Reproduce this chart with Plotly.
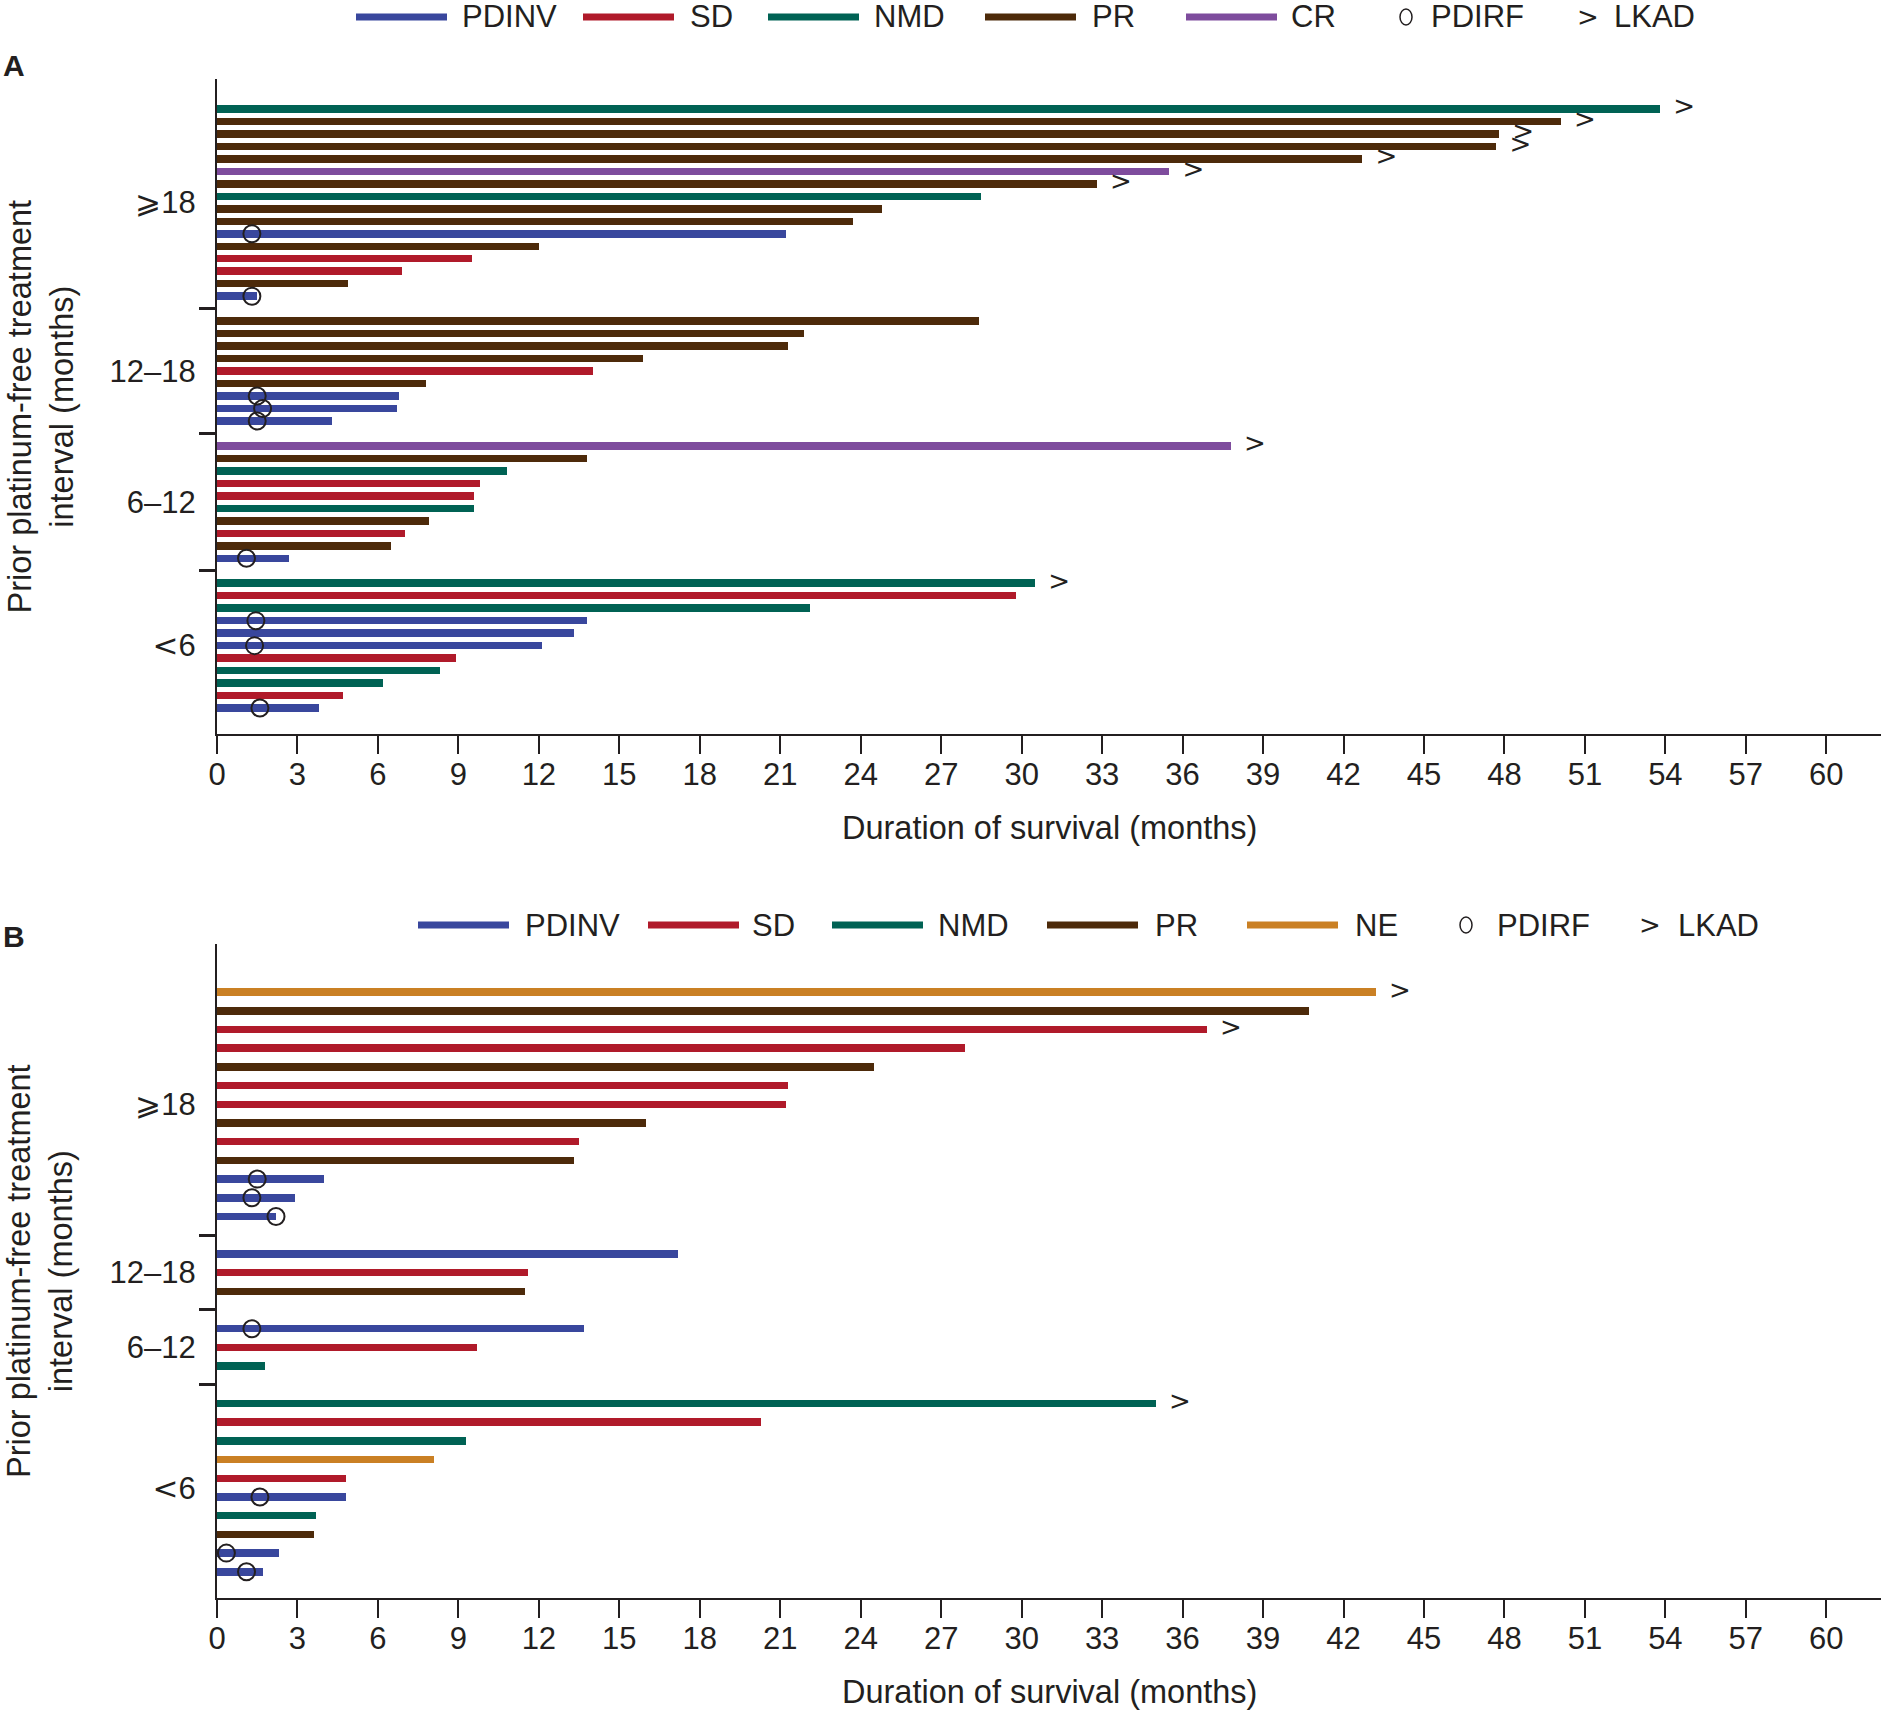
import plotly.graph_objects as go

# ---------------------------------------------------------------- data
GROUP_LABELS = ["⩾18", "12–18", "6–12", "<6"]
LEGEND_A = ["PDINV", "SD", "NMD", "PR", "CR", "PDIRF", "LKAD"]
LEGEND_B = ["PDINV", "SD", "NMD", "PR", "NE", "PDIRF", "LKAD"]
X_TICKS = list(range(0, 61, 3))

# Panel A  (months of survival, best response, PD/IRF time, last known alive flag)
A_GE18_MONTHS = [53.8, 50.1, 47.8, 47.7, 42.7, 35.5, 32.8, 28.5, 24.8, 23.7, 21.2, 12.0, 9.5, 6.9, 4.9, 1.5]
A_GE18_RESP = ["NMD", "PR", "PR", "PR", "PR", "CR", "PR", "NMD", "PR", "PR", "PDINV", "PR", "SD", "SD", "PR", "PDINV"]
A_GE18_PDIRF = [None, None, None, None, None, None, None, None, None, None, 1.3, None, None, None, None, 1.3]
A_GE18_LKAD = [1, 1, 1, 1, 1, 1, 1, 0, 0, 0, 0, 0, 0, 0, 0, 0]

A_12_18_MONTHS = [28.4, 21.9, 21.3, 15.9, 14.0, 7.8, 6.8, 6.7, 4.3]
A_12_18_RESP = ["PR", "PR", "PR", "PR", "SD", "PR", "PDINV", "PDINV", "PDINV"]
A_12_18_PDIRF = [None, None, None, None, None, None, 1.5, 1.7, 1.5]
A_12_18_LKAD = [0, 0, 0, 0, 0, 0, 0, 0, 0]

A_6_12_MONTHS = [37.8, 13.8, 10.8, 9.8, 9.6, 9.6, 7.9, 7.0, 6.5, 2.7]
A_6_12_RESP = ["CR", "PR", "NMD", "SD", "SD", "NMD", "PR", "SD", "PR", "PDINV"]
A_6_12_PDIRF = [None, None, None, None, None, None, None, None, None, 1.1]
A_6_12_LKAD = [1, 0, 0, 0, 0, 0, 0, 0, 0, 0]

A_LT6_MONTHS = [30.5, 29.8, 22.1, 13.8, 13.3, 12.1, 8.9, 8.3, 6.2, 4.7, 3.8]
A_LT6_RESP = ["NMD", "SD", "NMD", "PDINV", "PDINV", "PDINV", "SD", "NMD", "NMD", "SD", "PDINV"]
A_LT6_PDIRF = [None, None, None, 1.45, None, 1.4, None, None, None, None, 1.6]
A_LT6_LKAD = [1, 0, 0, 0, 0, 0, 0, 0, 0, 0, 0]

# Panel B
B_GE18_MONTHS = [43.2, 40.7, 36.9, 27.9, 24.5, 21.3, 21.2, 16.0, 13.5, 13.3, 4.0, 2.9, 2.2]
B_GE18_RESP = ["NE", "PR", "SD", "SD", "PR", "SD", "SD", "PR", "SD", "PR", "PDINV", "PDINV", "PDINV"]
B_GE18_PDIRF = [None, None, None, None, None, None, None, None, None, None, 1.5, 1.3, 2.2]
B_GE18_LKAD = [1, 0, 1, 0, 0, 0, 0, 0, 0, 0, 0, 0, 0]

B_12_18_MONTHS = [17.2, 11.6, 11.5]
B_12_18_RESP = ["PDINV", "SD", "PR"]
B_12_18_PDIRF = [None, None, None]
B_12_18_LKAD = [0, 0, 0]

B_6_12_MONTHS = [13.7, 9.7, 1.8]
B_6_12_RESP = ["PDINV", "SD", "NMD"]
B_6_12_PDIRF = [1.3, None, None]
B_6_12_LKAD = [0, 0, 0]

B_LT6_MONTHS = [35.0, 20.3, 9.3, 8.1, 4.8, 4.8, 3.7, 3.6, 2.3, 1.7]
B_LT6_RESP = ["NMD", "SD", "NMD", "NE", "SD", "PDINV", "NMD", "PR", "PDINV", "PDINV"]
B_LT6_PDIRF = [None, None, None, None, None, 1.6, None, None, 0.35, 1.1]
B_LT6_LKAD = [1, 0, 0, 0, 0, 0, 0, 0, 0, 0]

# ---------------------------------------------------------------- style
W, H = 1881, 1712
INK = "#231f20"
FONT = "Liberation Sans, Arial, Helvetica, sans-serif"
GLYPH_FONT = "DejaVu Sans, Liberation Sans, sans-serif"
COLORS = {"PDINV": "#39479d", "SD": "#b01a2a", "NMD": "#006254",
          "PR": "#4d2a0a", "CR": "#7e4c9d", "NE": "#ca8024"}
LKAD_OFFSET = 0.9
X_DOMAIN = [217 / W, 1.0]
X_RANGE = [0, 62.04]

PANELS = [
    dict(key="", groups=[(A_GE18_MONTHS, A_GE18_RESP, A_GE18_PDIRF, A_GE18_LKAD),
                         (A_12_18_MONTHS, A_12_18_RESP, A_12_18_PDIRF, A_12_18_LKAD),
                         (A_6_12_MONTHS, A_6_12_RESP, A_6_12_PDIRF, A_6_12_LKAD),
                         (A_LT6_MONTHS, A_LT6_RESP, A_LT6_PDIRF, A_LT6_LKAD)],
         legend=LEGEND_A, label="A",
         top_px=79, bot_px=734, yrange=[50.08, -2.4], bar_w=0.6,
         leg_y=17, leg_x=[356, 583, 768, 985, 1186, 1406, 1588],
         leg_tx=[460, 688, 872, 1090, 1289, 1429, 1612], label_y=66),
    dict(key="2", groups=[(B_GE18_MONTHS, B_GE18_RESP, B_GE18_PDIRF, B_GE18_LKAD),
                          (B_12_18_MONTHS, B_12_18_RESP, B_12_18_PDIRF, B_12_18_LKAD),
                          (B_6_12_MONTHS, B_6_12_RESP, B_6_12_PDIRF, B_6_12_LKAD),
                          (B_LT6_MONTHS, B_LT6_RESP, B_LT6_PDIRF, B_LT6_LKAD)],
         legend=LEGEND_B, label="B",
         top_px=944, bot_px=1598, yrange=[32.4, -2.57], bar_w=0.4,
         leg_y=925, leg_x=[418, 648, 832, 1047, 1247, 1466, 1650],
         leg_tx=[523, 750, 936, 1153, 1353, 1495, 1676], label_y=936),
]


def stack(groups):
    out = dict(slot=[], months=[], resp=[], pdirf=[], lkad=[], centers=[], seps=[])
    s = 0
    for gi, (m, r, p, k) in enumerate(groups):
        if gi > 0:
            out["seps"].append(s)
            s += 1
        start = s
        for i in range(len(m)):
            out["slot"].append(s)
            out["months"].append(m[i])
            out["resp"].append(r[i])
            out["pdirf"].append(p[i])
            out["lkad"].append(k[i])
            s += 1
        out["centers"].append((start + s - 1) / 2)
    return out


def tick_html(label):
    return label.replace("<", '<span style="font-family:DejaVu Sans">&lt;</span>')


fig = go.Figure()
shapes, annotations = [], []
layout = {}

for P in PANELS:
    d = stack(P["groups"])
    xa, ya = "x" + P["key"], "y" + P["key"]
    for r in P["legend"]:
        if r not in COLORS:
            continue
        idx = [i for i, v in enumerate(d["resp"]) if v == r]
        if not idx:
            continue
        fig.add_trace(go.Bar(
            x=[d["months"][i] for i in idx], y=[d["slot"][i] for i in idx],
            orientation="h", width=P["bar_w"], marker=dict(color=COLORS[r], line=dict(width=0)),
            name=r, showlegend=False, xaxis=xa, yaxis=ya, hoverinfo="x+name"))
    pi = [i for i, v in enumerate(d["pdirf"]) if v is not None]
    fig.add_trace(go.Scatter(
        x=[d["pdirf"][i] for i in pi], y=[d["slot"][i] for i in pi], mode="markers",
        marker=dict(symbol="circle-open", size=17, color=INK, line=dict(width=2, color=INK)),
        showlegend=False, cliponaxis=False, xaxis=xa, yaxis=ya, name="PDIRF"))
    li = [i for i, v in enumerate(d["lkad"]) if v]
    fig.add_trace(go.Scatter(
        x=[d["months"][i] + LKAD_OFFSET for i in li], y=[d["slot"][i] for i in li],
        mode="text", text=[">"] * len(li), textposition="middle center",
        textfont=dict(family=GLYPH_FONT, size=26, color=INK),
        showlegend=False, cliponaxis=False, xaxis=xa, yaxis=ya, name="LKAD"))

    dom = [1 - P["bot_px"] / H, 1 - P["top_px"] / H]
    layout["xaxis" + P["key"]] = dict(
        domain=X_DOMAIN, range=X_RANGE, anchor=ya, tickmode="array", tickvals=X_TICKS,
        ticks="outside", ticklen=18, tickwidth=2, tickcolor=INK, showline=True,
        linewidth=2, linecolor=INK, showgrid=False, zeroline=False, automargin=False,
        tickfont=dict(family=FONT, size=31, color=INK), ticklabelstandoff=-6)
    layout["yaxis" + P["key"]] = dict(
        domain=dom, range=P["yrange"], anchor=xa, tickmode="array",
        tickvals=d["centers"], ticktext=[tick_html(g) for g in GROUP_LABELS], ticks="",
        showline=True, linewidth=2, linecolor=INK, showgrid=False, zeroline=False,
        automargin=False, tickfont=dict(family=FONT, size=31, color=INK), ticklabelstandoff=13,
        minor=dict(tickmode="array", tickvals=d["seps"], ticks="outside", ticklen=16,
                   tickwidth=2.5, tickcolor=INK, showgrid=False))

    # axis titles
    annotations.append(dict(text="Duration of survival (months)", xref=xa + " domain", x=0.5,
                            yref=ya + " domain", y=0, yshift=-94, yanchor="middle",
                            showarrow=False, font=dict(family=FONT, size=32.5, color=INK)))
    annotations.append(dict(text="Prior platinum-free treatment<br>interval (months)",
                            xref="paper", x=40 / W, xanchor="center", yref=ya + " domain", y=0.5,
                            yanchor="middle", textangle=-90, showarrow=False,
                            font=dict(family=FONT, size=32.5, color=INK)))
    annotations.append(dict(text="<b>" + P["label"] + "</b>", xref="paper", x=14 / W,
                            xanchor="center", yref="paper", y=1 - P["label_y"] / H,
                            yanchor="middle", showarrow=False,
                            font=dict(family=FONT, size=30, color=INK)))

    # legend
    ly = 1 - P["leg_y"] / H
    for name, lx, tx in zip(P["legend"], P["leg_x"], P["leg_tx"]):
        if name in COLORS:
            shapes.append(dict(type="line", xref="paper", yref="paper", x0=lx / W,
                               x1=(lx + 91) / W, y0=ly, y1=ly,
                               line=dict(color=COLORS[name], width=7)))
        elif name == "PDIRF":
            shapes.append(dict(type="circle", xref="paper", yref="paper",
                               x0=(lx - 6) / W, x1=(lx + 6) / W, y0=ly - 8 / H, y1=ly + 8 / H,
                               line=dict(color=INK, width=1.5)))
        else:
            annotations.append(dict(text=">", xref="paper", x=lx / W, xanchor="center",
                                    yref="paper", y=ly, yanchor="middle", showarrow=False,
                                    font=dict(family=GLYPH_FONT, size=26, color=INK)))
        annotations.append(dict(text=name, xref="paper", x=tx / W, xanchor="left",
                                yref="paper", y=ly, yanchor="middle", showarrow=False,
                                font=dict(family=FONT, size=31, color=INK)))

fig.update_layout(
    width=W, height=H, margin=dict(l=0, r=0, t=0, b=0, autoexpand=False),
    paper_bgcolor="white", plot_bgcolor="white", bargap=0,
    showlegend=False, shapes=shapes, annotations=annotations,
    font=dict(family=FONT, color=INK), **layout)

fig.write_html("out.html", config={"displayModeBar": False},
               post_script="document.body.style.margin='0px';document.body.style.overflow='hidden';")
